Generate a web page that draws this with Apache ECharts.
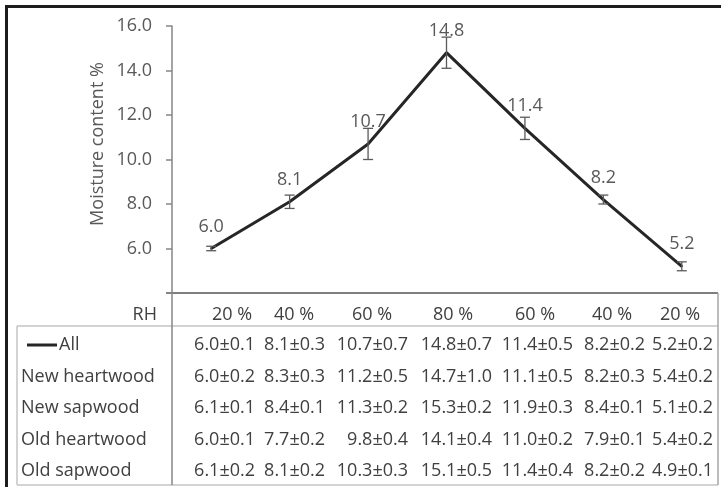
<!DOCTYPE html>
<html>
<head>
<meta charset="utf-8">
<script src="https://cdn.jsdelivr.net/npm/echarts@6/dist/echarts.min.js"></script>
<style>
  body { margin: 0; background: #fff; }
</style>
</head>
<body>
<div id="main" style="width:721px;height:495px"></div>
<script>
// RH steps (adsorption then desorption)
const categories = ['20 %', '40 %', '60 %', '80 %', '60 %', '40 %', '20 %'];

// mean moisture content and std, per wood type
const allMean = [6.0, 8.1, 10.7, 14.8, 11.4, 8.2, 5.2];
const allSd = [0.1, 0.3, 0.7, 0.7, 0.5, 0.2, 0.2];
const newHeartMean = [6.0, 8.3, 11.2, 14.7, 11.1, 8.2, 5.4];
const newHeartSd = [0.2, 0.3, 0.5, 1.0, 0.5, 0.3, 0.2];
const newSapMean = [6.1, 8.4, 11.3, 15.3, 11.9, 8.4, 5.1];
const newSapSd = [0.1, 0.1, 0.2, 0.2, 0.3, 0.1, 0.2];
const oldHeartMean = [6.0, 7.7, 9.8, 14.1, 11.0, 7.9, 5.4];
const oldHeartSd = [0.1, 0.2, 0.4, 0.4, 0.2, 0.1, 0.2];
const oldSapMean = [6.1, 8.1, 10.3, 15.1, 11.4, 8.2, 4.9];
const oldSapSd = [0.2, 0.2, 0.3, 0.5, 0.4, 0.2, 0.1];

const rowNames = ['All', 'New heartwood', 'New sapwood', 'Old heartwood', 'Old sapwood'];
const rowMeans = [allMean, newHeartMean, newSapMean, oldHeartMean, oldSapMean];
const rowSds = [allSd, newHeartSd, newSapSd, oldHeartSd, oldSapSd];

// table layout
const FONT = '"Open Sans", "Liberation Sans", sans-serif';
const colRight = [255, 325, 408, 492, 573, 645, 713];
const headCenter = [232, 294, 372, 453, 535, 612, 680];
const rowY = [345, 376.5, 408, 439.5, 471];
const headY = 315;

var myChart = echarts.init(document.getElementById('main'));

function hline(x1, x2, y, color, w) {
    return { type: 'line', shape: { x1: x1, y1: y, x2: x2, y2: y }, style: { stroke: color, lineWidth: w }, silent: true };
}
function vline(x, y1, y2, color, w) {
    return { type: 'line', shape: { x1: x, y1: y1, x2: x, y2: y2 }, style: { stroke: color, lineWidth: w }, silent: true };
}
function txt(s, x, y, align, color) {
    return {
        type: 'text', x: x, y: y, silent: true,
        style: { text: s, fontSize: 18, fontFamily: FONT, fill: color || '#404040', align: align, verticalAlign: 'middle' }
    };
}

let graphics = [];
// outer frame
graphics.push(hline(5, 721, 6.5, '#1c1c1c', 3));
graphics.push(vline(6.5, 5, 487, '#1c1c1c', 3));
// axis title
graphics.push({
    type: 'text', x: 98, y: 144, rotation: Math.PI / 2, silent: true,
    style: { text: 'Moisture content %', fontSize: 18, fontFamily: FONT, fill: '#595959', align: 'center', verticalAlign: 'middle' }
});
// table lines
graphics.push(hline(166, 718, 293, '#7f7f7f', 2));
graphics.push(hline(17, 718, 326, '#c4c4c4', 1.5));
graphics.push(hline(17, 718, 485, '#c4c4c4', 1.5));
graphics.push(vline(17, 326, 485, '#c4c4c4', 1.5));
graphics.push(vline(718, 293, 485, '#a6a6a6', 1.5));
graphics.push(vline(172, 293, 485, '#868686', 1.5));
// header
graphics.push(txt('RH', 157, headY, 'right'));
categories.forEach((c, i) => graphics.push(txt(c, headCenter[i], headY, 'center')));
// rows
rowNames.forEach((name, r) => {
    if (r === 0) {
        graphics.push(hline(27, 57, rowY[r], '#262626', 3));
        graphics.push(txt(name, 59, rowY[r], 'left'));
    } else {
        graphics.push(txt(name, 21, rowY[r], 'left'));
    }
    rowMeans[r].forEach((m, i) => {
        graphics.push(txt(m.toFixed(1) + '±' + rowSds[r][i].toFixed(1), colRight[i], rowY[r], 'right'));
    });
});

myChart.setOption({
    animation: false,
    backgroundColor: '#fff',
    grid: { left: 172, right: -5, top: 26, bottom: 202 },
    xAxis: {
        type: 'category',
        data: categories,
        boundaryGap: true,
        axisLine: { show: false },
        axisTick: { show: false },
        axisLabel: { show: false }
    },
    yAxis: {
        type: 'value',
        min: 4,
        max: 16,
        interval: 2,
        axisLine: { show: true, lineStyle: { color: '#868686', width: 1.5 } },
        axisTick: { show: true, length: 6, lineStyle: { color: '#868686', width: 1.5 } },
        splitLine: { show: false },
        axisLabel: {
            margin: 20,
            fontSize: 18,
            fontFamily: FONT,
            color: '#595959',
            formatter: v => (v === 4 ? '' : v.toFixed(1))
        }
    },
    series: [
        {
            name: 'All',
            type: 'line',
            data: allMean,
            symbol: 'circle',
            symbolSize: 2,
            itemStyle: { color: '#262626' },
            lineStyle: { color: '#262626', width: 3 },
            label: {
                show: true,
                position: 'top',
                distance: 12,
                fontSize: 18,
                fontFamily: FONT,
                color: '#595959',
                formatter: p => p.value.toFixed(1)
            },
            z: 2
        },
        {
            name: 'sd',
            type: 'custom',
            data: allMean.map((m, i) => [i, m - allSd[i], m + allSd[i]]),
            encode: { x: 0, y: [1, 2] },
            renderItem: function (params, api) {
                const lo = api.coord([api.value(0), api.value(1)]);
                const hi = api.coord([api.value(0), api.value(2)]);
                const w = 5;
                const st = { stroke: '#5a5a5a', lineWidth: 1.3 };
                return {
                    type: 'group',
                    children: [
                        { type: 'line', shape: { x1: lo[0], y1: lo[1], x2: hi[0], y2: hi[1] }, style: st },
                        { type: 'line', shape: { x1: lo[0] - w, y1: lo[1], x2: lo[0] + w, y2: lo[1] }, style: st },
                        { type: 'line', shape: { x1: hi[0] - w, y1: hi[1], x2: hi[0] + w, y2: hi[1] }, style: st }
                    ]
                };
            },
            z: 3
        }
    ],
    graphic: graphics
});
</script>
</body>
</html>
